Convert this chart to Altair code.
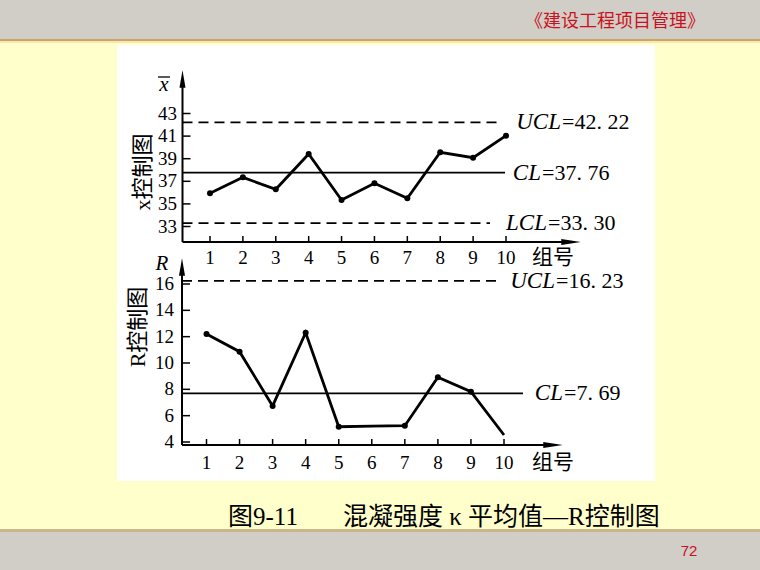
import altair as alt
import pandas as pd

# ---------------- data ----------------
groups = [1, 2, 3, 4, 5, 6, 7, 8, 9, 10]
xbar_values = [35.94, 37.35, 36.29, 39.42, 35.35, 36.82, 35.50, 39.57, 39.09, 41.04]
r_values = [12.20, 10.86, 6.74, 12.30, 5.16, 5.20, 5.24, 8.92, 7.82, 4.53]
r_marked = [True, True, True, True, True, False, True, True, True, False]
xbar_ticks = [33, 35, 37, 39, 41, 43]
r_ticks = [4, 6, 8, 10, 12, 14, 16]
xbar_limit_names = ["UCL", "CL", "LCL"]
xbar_limit_values = [42.22, 37.76, 33.30]
xbar_limit_texts = ["=42. 22", "=37. 76", "=33. 30"]
r_limit_names = ["UCL", "CL"]
r_limit_values = [16.23, 7.69]
r_limit_texts = ["=16. 23", "=7. 69"]

# ---------------- layout / style ----------------
SERIF = "Liberation Serif"
CJK = "Liberation Serif, Noto Sans CJK SC"
YELLOW = "#FFFFCC"
GRAY = "#D0CEC6"
RED = "#CC1020"

XS_TOP = alt.Scale(domain=[1, 10], range=[210, 506], nice=False, zero=False)
YS_TOP = alt.Scale(domain=[33, 43], range=[226.5, 113.5], nice=False, zero=False)
XS_BOT = alt.Scale(domain=[1, 10], range=[206.5, 504], nice=False, zero=False)
YS_BOT = alt.Scale(domain=[4, 16], range=[442, 284], nice=False, zero=False)

ONE = pd.DataFrame({"a": [0]})
layers = []


def rect(x, x2, y, y2, color):
    return alt.Chart(ONE).mark_rect(color=color).encode(
        x=alt.value(x), x2=alt.value(x2), y=alt.value(y), y2=alt.value(y2))


def seg(x, x2, y, y2, width=2.0):
    return alt.Chart(ONE).mark_rule(color="black", strokeWidth=width).encode(
        x=alt.value(x), x2=alt.value(x2), y=alt.value(y), y2=alt.value(y2))


def label(x, y, text, size, font=SERIF, align="center", style="normal",
          color="black", angle=0, weight="normal"):
    return alt.Chart(ONE).mark_text(
        text=text, fontSize=size, font=font, align=align, baseline="middle",
        fontStyle=style, color=color, angle=angle, fontWeight=weight
    ).encode(x=alt.value(x), y=alt.value(y))


def arrow(x, y, path, size):
    return alt.Chart(ONE).mark_point(
        shape=path, filled=True, color="black", size=size, opacity=1, strokeWidth=0
    ).encode(x=alt.value(x), y=alt.value(y))


UP = "M -0.35 1 L 0 -1 L 0.35 1 Z"
RIGHT = "M -1 -0.32 L 1 0 L -1 0.32 Z"

# slide background
layers += [
    rect(0, 760, 0, 39, GRAY),
    rect(0, 760, 39, 41, "#C9A56E"),
    rect(0, 760, 41, 43, "#FBE7AE"),
    rect(0, 760, 529, 532, "#CDB58A"),
    rect(0, 760, 532, 570, GRAY),
    rect(117, 655, 45, 481, "white"),
    label(615, 22, "《建设工程项目管理》", 18, font="Noto Sans CJK SC", color=RED),
    label(689, 551, "72", 15, font="Liberation Sans", color=RED),
    label(228, 517, "图9-11", 25, font=CJK, align="left"),
    label(343, 517, "混凝强度 κ 平均值—R控制图", 25, font=CJK, align="left"),
]


def panel(values, marked, ticks, names, lvals, ltexts, xs, ys, cfg):
    df = pd.DataFrame({"g": groups, "v": values, "m": marked})
    X = alt.X("g:Q", scale=xs, axis=None)
    Y = alt.Y("v:Q", scale=ys, axis=None)
    out = []
    # axes frame
    x0 = cfg["axis_x"]
    out.append(seg(x0, x0, cfg["y_top"], cfg["x_axis_y"]))
    out.append(seg(x0, cfg["x_end"], cfg["x_axis_y"], cfg["x_axis_y"]))
    out.append(arrow(x0, cfg["y_arrow"], UP, 300))
    out.append(arrow(cfg["x_arrow"], cfg["x_axis_y"], RIGHT, 380))
    # y ticks and labels
    tdf = pd.DataFrame({"t": ticks})
    TY = alt.Y("t:Q", scale=ys, axis=None)
    out.append(alt.Chart(tdf).mark_rule(color="black", strokeWidth=1.5).encode(
        y=TY, x=alt.value(x0), x2=alt.value(x0 + 8)))
    out.append(alt.Chart(tdf).mark_text(
        align="right", baseline="middle", font=SERIF, fontSize=19, color="black"
    ).encode(y=TY, x=alt.value(cfg["ylab_x"]), text="t:Q"))
    # x ticks and labels
    gdf = pd.DataFrame({"g": groups})
    out.append(alt.Chart(gdf).mark_rule(color="black", strokeWidth=1.5).encode(
        x=X, y=alt.value(cfg["x_axis_y"] - 6), y2=alt.value(cfg["x_axis_y"])))
    out.append(alt.Chart(gdf).mark_text(
        align="center", baseline="middle", font=SERIF, fontSize=19, color="black"
    ).encode(x=X, y=alt.value(cfg["xlab_y"]), text="g:Q"))
    out.append(label(532, cfg["xlab_y"], "组号", 21, font="Noto Sans CJK SC", align="left"))
    # control limits
    for name, val, txt, end, split in zip(names, lvals, ltexts, cfg["ends"], cfg["splits"]):
        ldf = pd.DataFrame({"v": [val]})
        dash = [] if name == "CL" else [10, 6]
        out.append(alt.Chart(ldf).mark_rule(
            color="black", strokeWidth=1.7, strokeDash=dash
        ).encode(y=Y, x=alt.value(x0), x2=alt.value(end)))
        out.append(alt.Chart(ldf).mark_text(
            text=name, align="right", baseline="middle", font=SERIF,
            fontSize=23, fontStyle="italic", color="black"
        ).encode(y=Y, x=alt.value(split)))
        out.append(alt.Chart(ldf).mark_text(
            text=txt, align="left", baseline="middle", font=SERIF,
            fontSize=22, color="black"
        ).encode(y=Y, x=alt.value(split + 1)))
    # data
    out.append(alt.Chart(df).mark_line(color="black", strokeWidth=2.8).encode(x=X, y=Y))
    out.append(alt.Chart(df).transform_filter("datum.m").mark_circle(
        color="black", size=36, opacity=1).encode(x=X, y=Y))
    return out


layers += panel(
    xbar_values, [True] * 10, xbar_ticks, xbar_limit_names, xbar_limit_values,
    xbar_limit_texts, XS_TOP, YS_TOP,
    dict(axis_x=182.5, y_top=84, x_axis_y=242, x_end=566, y_arrow=79,
         x_arrow=571, ylab_x=177, xlab_y=258,
         ends=[500, 505, 490], splits=[561, 541, 547]))
layers += panel(
    r_values, r_marked, r_ticks, r_limit_names, r_limit_values,
    r_limit_texts, XS_BOT, YS_BOT,
    dict(axis_x=182, y_top=272, x_axis_y=445, x_end=548, y_arrow=267,
         x_arrow=553, ylab_x=174, xlab_y=463,
         ends=[498, 523], splits=[555, 563]))

# axis titles
layers += [
    label(143, 172, "x控制图", 22, font=CJK, angle=270),
    label(138, 327, "R控制图", 22, font=CJK, angle=270),
    label(164, 85, "x", 21, style="italic"),
    seg(158, 170, 77, 77, 1.3),
    label(162, 264, "R", 21, style="italic"),
]

chart = alt.layer(*layers).resolve_scale(
    x="independent", y="independent"
).properties(
    width=760, height=570, padding=0,
    autosize=alt.AutoSizeParams(type="none"),
    background=YELLOW,
).configure_view(strokeWidth=0)

chart.save("out.html", embed_options={"renderer": "svg", "actions": False})
